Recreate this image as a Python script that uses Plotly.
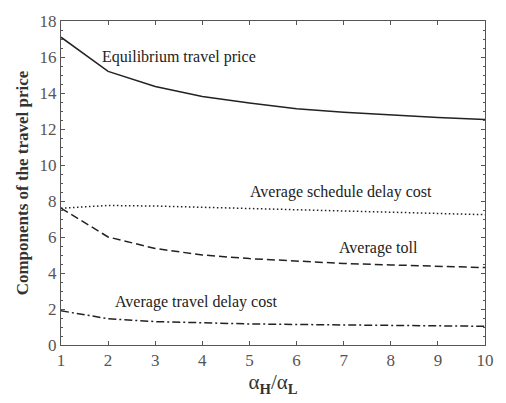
import plotly.graph_objects as go

# Ratio of high to low value-of-time, alpha_H / alpha_L
ratio = [1, 2, 3, 4, 5, 6, 7, 8, 9, 10]

# Components of the travel price for each ratio
equilibrium_price = [17.1, 15.2, 14.36, 13.8, 13.44, 13.13, 12.93, 12.77, 12.64, 12.53]
schedule_delay_cost = [7.6, 7.75, 7.72, 7.65, 7.58, 7.5, 7.44, 7.38, 7.31, 7.24]
average_toll = [7.6, 6.0, 5.36, 5.0, 4.8, 4.65, 4.53, 4.45, 4.38, 4.3]
travel_delay_cost = [1.9, 1.46, 1.3, 1.22, 1.17, 1.14, 1.11, 1.09, 1.07, 1.04]

series = [
    ("Equilibrium travel price", equilibrium_price, "solid"),
    ("Average schedule delay cost", schedule_delay_cost, "1.5px,2.5px"),
    ("Average toll", average_toll, "8px,4px"),
    ("Average travel delay cost", travel_delay_cost, "8px,3px,2px,3px"),
]

# Text labels placed next to each curve (x, y in data units)
label_pos = {
    "Equilibrium travel price": (3.5, 16.0),
    "Average schedule delay cost": (6.95, 8.5),
    "Average toll": (7.73, 5.37),
    "Average travel delay cost": (3.86, 2.39),
}

FONT = "Liberation Serif, Times New Roman, serif"
LINE = "#222222"

fig = go.Figure()
for name, vals, dash in series:
    fig.add_trace(go.Scatter(
        x=ratio, y=vals, mode="lines", name=name,
        line=dict(color=LINE, width=1.5, dash=dash),
        showlegend=False,
    ))

for name, (lx, ly) in label_pos.items():
    fig.add_annotation(x=lx, y=ly, text=name, showarrow=False,
                       font=dict(family=FONT, size=16, color="#222"))

axis_common = dict(
    showline=True, linecolor="#555", linewidth=1,
    mirror="allticks", ticks="inside", tickcolor="#555",
    ticklen=4, showgrid=False, zeroline=False,
    tickfont=dict(family=FONT, size=17, color="#555"),
)

fig.update_xaxes(
    range=[1, 10], dtick=1, tick0=1,
    title=dict(text="α<sub><b>H</b></sub>/α<sub><b>L</b></sub>",
               font=dict(family=FONT, size=21, color="#333"), standoff=4),
    **axis_common,
)
fig.update_yaxes(
    range=[0, 18], dtick=2,
    minor=dict(dtick=0.5, ticks="inside", ticklen=2, tickcolor="#555"),
    title=dict(text="<b>Components of the travel price</b>",
               font=dict(family=FONT, size=17, color="#333"), standoff=6),
    **axis_common,
)

fig.update_layout(
    width=506, height=403,
    margin=dict(l=61, r=16, t=13, b=58),
    plot_bgcolor="white", paper_bgcolor="white",
)

fig.write_html("out.html")
